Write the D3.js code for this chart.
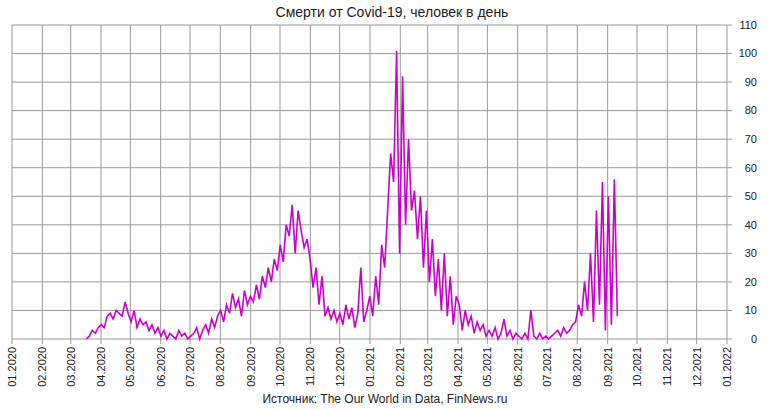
<!DOCTYPE html>
<html><head><meta charset="utf-8">
<script src="https://cdn.jsdelivr.net/npm/d3@7"></script>
<style>
body { margin: 0; background: #fff; }
text { font-family: "Liberation Sans", Arial, sans-serif; fill: #222; }
</style></head>
<body><svg id="chart" width="780" height="410"></svg>
<script>
const title = "Смерти от Covid-19, человек в день";
const source = "Источник: The Our World in Data, FinNews.ru";
const startDate = new Date(2020, 2, 17);
const stepDays = 3.05;
// daily deaths, sampled roughly every 3 days
const deaths = [
  0,1,3,2,4,
  5,4,8,9,7,10,9,8,13,9,
  6,10,4,7,5,6,3,5,2,4,
  1,3,0,2,1,0,3,1,2,0,
  1,2,4,0,3,5,2,7,4,8,
  10,6,12,9,16,11,14,8,17,12,
  15,13,19,14,22,18,25,20,28,24,
  33,27,40,36,47,30,45,38,32,35,
  28,18,25,12,22,8,11,7,10,6,
  9,5,12,7,11,4,9,25,6,10,
  15,8,22,12,33,25,45,65,55,101,
  30,92,40,70,45,52,35,50,25,45,
  20,35,15,28,10,30,8,22,5,15,
  12,3,10,5,8,2,6,3,5,1,
  3,1,4,0,2,7,1,3,0,2,
  1,0,2,0,10,1,0,2,0,1,
  0,1,2,3,1,4,2,3,5,6,
  12,8,20,10,30,6,45,12,55,3,
  50,5,56,8
];
const yTicks = d3.range(0, 111, 10);

const data = deaths.map((v, i) => ({ date: new Date(+startDate + i * stepDays * 864e5), value: v }));

const svg = d3.select("#chart");
const margin = { top: 25, right: 53, bottom: 71, left: 12 };
const width = 780 - margin.left - margin.right;
const height = 410 - margin.top - margin.bottom;
const g = svg.append("g").attr("transform", `translate(${margin.left},${margin.top})`);

const x = d3.scaleTime().domain([new Date(2020, 0, 1), new Date(2022, 0, 1)]).range([0, width]);
const y = d3.scaleLinear().domain([0, 110]).range([height, 0]);
const months = d3.timeMonth.range(new Date(2020, 0, 1), new Date(2022, 0, 2));

// grid
g.selectAll(".vgrid").data(months).join("line")
  .attr("x1", d => x(d)).attr("x2", d => x(d)).attr("y1", 0).attr("y2", height + 5)
  .attr("stroke", "#999").attr("stroke-width", 1);
g.selectAll(".hgrid").data(yTicks).join("line")
  .attr("x1", 0).attr("x2", width + 5).attr("y1", d => y(d)).attr("y2", d => y(d))
  .attr("stroke", "#999").attr("stroke-width", 1);

// y labels (right)
g.selectAll(".ylab").data(yTicks).join("text")
  .attr("x", width + 30).attr("y", d => y(d)).attr("dy", "0.35em")
  .attr("text-anchor", "end").style("font-size", "11px").text(d => d);

// x labels
g.selectAll(".xlab").data(months).join("text")
  .attr("transform", d => `translate(${x(d)},${height + 8}) rotate(-90)`)
  .attr("dy", "0.35em").attr("text-anchor", "end").style("font-size", "11px")
  .text(d3.timeFormat("%m.%Y"));

// line
g.append("path").datum(data)
  .attr("d", d3.line().x(d => x(d.date)).y(d => y(d.value)))
  .attr("fill", "none").attr("stroke", "#cc00cc").attr("stroke-width", 1.6);

svg.append("text").attr("x", 392).attr("y", 17).attr("text-anchor", "middle")
  .style("font-size", "14px").text(title);
svg.append("text").attr("x", 385).attr("y", 403).attr("text-anchor", "middle")
  .style("font-size", "12px").text(source);
</script></body></html>
